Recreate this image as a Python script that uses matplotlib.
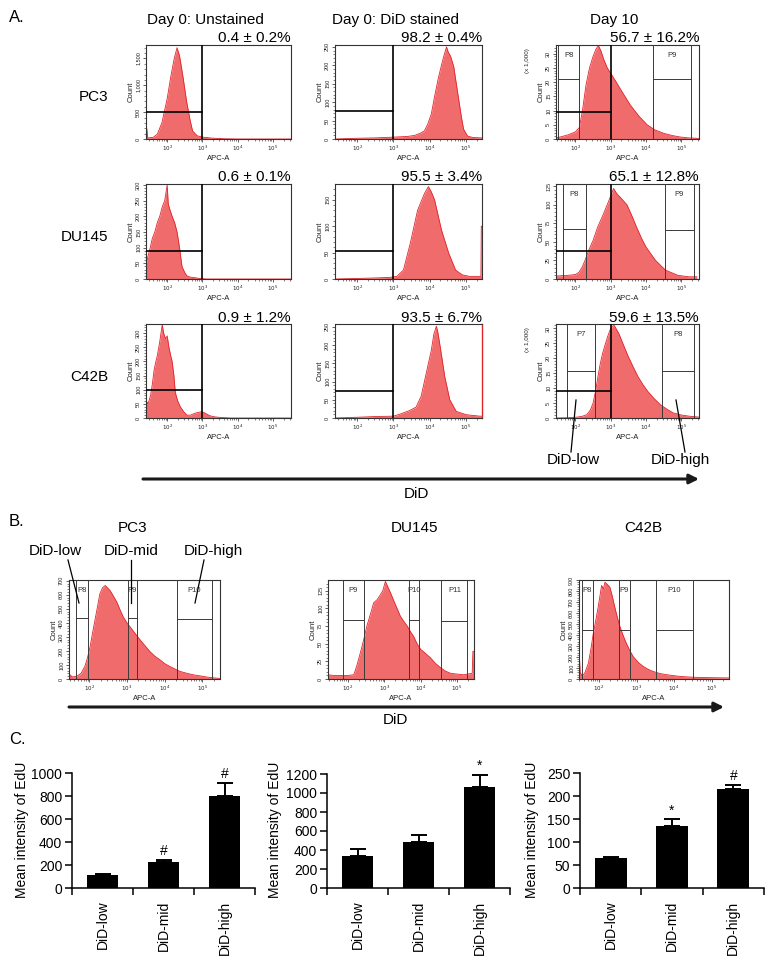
import numpy as np
import matplotlib
matplotlib.use('Agg')
import matplotlib.pyplot as plt
from matplotlib.ticker import FixedLocator, NullFormatter, LogLocator

plt.rcParams['font.family'] = ['Liberation Sans', 'DejaVu Sans']

W, H = 776, 963
fig = plt.figure(figsize=(W / 100, H / 100), dpi=100)

# ---------------- data ----------------
col_titles = ["Day 0: Unstained", "Day 0: DiD stained", "Day 10"]
row_labels = ["PC3", "DU145", "C42B"]
pct_labels = [["0.4 ± 0.2%", "98.2 ± 0.4%", "56.7 ± 16.2%"],
              ["0.6 ± 0.1%", "95.5 ± 3.4%", "65.1 ± 12.8%"],
              ["0.9 ± 1.2%", "93.5 ± 6.7%", "59.6 ± 13.5%"]]

# histograms: log10(APC-A) positions and counts
pc3_unst_lx = [1.40, 1.42, 1.45, 1.6, 1.72, 1.85, 2.0, 2.1, 2.2, 2.28, 2.35, 2.45, 2.55, 2.65, 2.72, 2.85, 3.0, 3.3, 3.6, 4.0, 5.5]
pc3_unst_ct = [200, 200, 20, 30, 90, 300, 750, 1150, 1500, 1700, 1550, 1150, 700, 350, 150, 60, 35, 15, 5, 0, 0]
pc3_st_lx = [1.39, 2.0, 2.5, 3.0, 3.4, 3.6, 3.75, 3.86, 3.95, 4.05, 4.15, 4.25, 4.33, 4.39, 4.44, 4.47, 4.52, 4.58, 4.67, 4.74, 4.81, 4.88, 4.94, 5.05, 5.2, 5.44]
pc3_st_ct = [0, 2, 3, 5, 7, 10, 16, 22, 40, 68, 120, 168, 200, 223, 240, 250, 235, 225, 196, 150, 105, 60, 27, 8, 4, 3]
pc3_d10_lx = [1.46, 1.6, 1.8, 2.0, 2.11, 2.2, 2.3, 2.4, 2.5, 2.58, 2.65, 2.72, 2.8, 2.9, 3.08, 3.3, 3.55, 3.8, 4.03, 4.25, 4.5, 4.75, 4.97, 5.2, 5.51]
pc3_d10_ct = [0.4, 0.8, 1.5, 2.5, 4.0, 10, 19, 25, 29, 31.5, 32.8, 31, 28, 25, 21.5, 17, 12, 8, 5, 3.2, 2.0, 1.2, 0.7, 0.4, 0.2]

du_unst_lx = [1.41, 1.45, 1.52, 1.58, 1.65, 1.72, 1.79, 1.86, 1.93, 2.0, 2.03, 2.08, 2.14, 2.21, 2.28, 2.35, 2.42, 2.5, 2.56, 2.65, 2.74, 2.9, 3.1, 5.5]
du_unst_ct = [50, 70, 100, 130, 150, 180, 200, 230, 250, 300, 240, 220, 200, 180, 150, 100, 40, 20, 10, 6, 5, 2, 0, 0]
du_st_lx = [1.39, 2.0, 2.5, 2.9, 3.1, 3.28, 3.47, 3.67, 3.86, 3.97, 4.05, 4.14, 4.33, 4.53, 4.72, 4.9, 5.1, 5.3, 5.42, 5.43, 5.44]
du_st_ct = [0, 1, 2, 3, 5, 17, 68, 130, 162, 175, 165, 150, 93, 49, 17, 8, 5, 5, 5, 100, 100]
du_d10_lx = [1.46, 1.8, 2.0, 2.1, 2.19, 2.28, 2.37, 2.5, 2.63, 2.77, 2.9, 3.0, 3.08, 3.17, 3.27, 3.46, 3.6, 3.73, 3.87, 4.0, 4.27, 4.55, 4.9, 5.2, 5.44]
du_d10_ct = [4, 5, 6, 9, 16, 26, 38, 52, 70, 85, 100, 112, 122, 115, 110, 100, 85, 70, 55, 43, 25, 12, 5, 3, 3]

c42_unst_lx = [1.41, 1.46, 1.53, 1.58, 1.63, 1.68, 1.72, 1.79, 1.86, 1.9, 1.95, 2.0, 2.05, 2.1, 2.14, 2.19, 2.23, 2.3, 2.37, 2.47, 2.56, 2.66, 2.75, 2.82, 2.89, 2.96, 3.03, 3.12, 3.21, 3.35, 3.5, 3.8, 5.5]
c42_unst_ct = [60, 50, 80, 120, 170, 200, 220, 270, 330, 300, 280, 290, 250, 220, 200, 150, 90, 60, 40, 22, 10, 10, 15, 18, 20, 22, 20, 14, 8, 4, 2, 0, 0]
c42_st_lx = [1.39, 2.0, 2.5, 3.0, 3.17, 3.44, 3.63, 3.77, 3.91, 4.05, 4.12, 4.19, 4.23, 4.28, 4.35, 4.42, 4.56, 4.74, 5.02, 5.39, 5.44]
c42_st_ct = [0, 2, 4, 5, 10, 20, 30, 60, 123, 186, 230, 252, 235, 205, 160, 114, 50, 18, 9, 5, 5]
c42_d10_lx = [1.43, 1.8, 2.05, 2.2, 2.32, 2.42, 2.5, 2.57, 2.64, 2.7, 2.77, 2.84, 2.91, 2.98, 3.05, 3.1, 3.23, 3.36, 3.5, 3.64, 3.77, 3.91, 4.05, 4.23, 4.41, 4.6, 4.77, 5.0, 5.23, 5.5]
c42_d10_ct = [0, 0.1, 0.3, 0.6, 1.1, 2.6, 5, 9, 14, 18, 21.7, 24.5, 27.2, 29.5, 30.8, 31, 28.3, 24.5, 20.5, 17, 13.9, 11.2, 8.9, 6.5, 4.4, 2.9, 1.7, 1.0, 0.6, 0.3]

bpc3_lx = [1.46, 1.48, 1.55, 1.66, 1.78, 1.88, 1.95, 2.02, 2.08, 2.15, 2.22, 2.28, 2.35, 2.42, 2.48, 2.55, 2.64, 2.73, 2.82, 2.9, 3.0, 3.08, 3.2, 3.35, 3.5, 3.61, 3.75, 3.88, 4.0, 4.14, 4.3, 4.41, 4.6, 4.76, 4.95, 5.12, 5.3, 5.47]
bpc3_ct = [60, 30, 15, 19, 40, 90, 150, 230, 320, 420, 520, 607, 650, 666, 650, 630, 590, 548, 490, 442, 400, 372, 330, 278, 230, 195, 160, 136, 110, 89, 68, 54, 40, 30, 22, 14, 8, 4]
bdu_lx = [1.45, 1.6, 1.8, 2.0, 2.16, 2.25, 2.34, 2.43, 2.52, 2.62, 2.71, 2.8, 2.89, 2.96, 3.03, 3.1, 3.17, 3.25, 3.35, 3.44, 3.53, 3.63, 3.72, 3.81, 3.9, 4.0, 4.14, 4.27, 4.41, 4.55, 4.69, 4.83, 5.0, 5.18, 5.42, 5.44, 5.47]
bdu_ct = [6, 5, 5, 5, 6, 20, 37, 55, 75, 92, 108, 112, 119, 125, 138, 130, 122, 112, 100, 89, 82, 75, 67, 60, 50, 42, 36, 30, 22, 16, 11, 8, 7, 6, 8, 39, 39]
bc42_lx = [1.47, 1.5, 1.56, 1.63, 1.72, 1.79, 1.85, 1.92, 1.98, 2.03, 2.07, 2.12, 2.16, 2.22, 2.29, 2.35, 2.42, 2.49, 2.56, 2.65, 2.73, 2.82, 2.91, 3.05, 3.18, 3.31, 3.44, 3.62, 3.8, 4.0, 4.15, 4.4, 4.59, 5.0, 5.39, 5.46]
bc42_ct = [280, 60, 24, 60, 144, 280, 414, 540, 655, 760, 850, 820, 880, 860, 835, 760, 655, 560, 475, 390, 324, 260, 204, 150, 114, 88, 69, 50, 39, 30, 24, 18, 15, 12, 10, 10]

# gates
day0_gate_y = [[500, 75], [90, 53], [100, 75]]
day10_quad_y = [9.5, 38, 9.2]
day10_boxes = [[(1.52, 2.11, 21, "P8"), (4.2, 5.28, 21, "P9")],
               [(1.65, 2.3, 67, "P8"), (4.53, 5.35, 66, "P9")],
               [(1.77, 2.55, 15.8, "P7"), (4.45, 5.35, 15.8, "P8")]]
b_titles = ["PC3", "DU145", "C42B"]
b_boxes = [[(1.65, 1.97, 435, "P8"), (3.02, 3.26, 435, "P9"), (4.32, 5.27, 430, "P10")],
           [(1.86, 2.44, 83, "P9"), (3.69, 3.96, 84, "P10"), (4.57, 5.29, 82.5, "P11")],
           [(1.56, 1.83, 450, "P8"), (2.54, 2.82, 450, "P9"), (3.53, 4.49, 450, "P10")]]

# panel C
c_categories = ["DiD-low", "DiD-mid", "DiD-high"]
c_pc3_mean = [115, 230, 800]
c_pc3_err = [8, 10, 115]
c_du_mean = [340, 480, 1065]
c_du_err = [75, 80, 125]
c_c42_mean = [66, 135, 216]
c_c42_err = [2, 14, 7]
c_pc3_marks = ["", "#", "#"]
c_du_marks = ["", "", "*"]
c_c42_marks = ["", "*", "#"]

# ---------------- helpers ----------------
FILL = '#f06c6c'
EDGE = '#e1232b'


def px_axes(x0, y0, x1, y1):
    return fig.add_axes([x0 / W, 1 - y1 / H, (x1 - x0) / W, (y1 - y0) / H])


def fmt_count(v):
    return f"{int(v):,}"


def hist_ax(rect, lx, ct, xl, ylim, yticks, yminor, thousand=False):
    ax = px_axes(*rect)
    x = 10 ** np.array(lx)
    ax.fill_between(x, ct, 0, color=FILL, lw=0, zorder=1)
    ax.plot(x, ct, color=EDGE, lw=0.6, zorder=2)
    ax.set_xscale('log')
    ax.set_xlim(10 ** xl[0], 10 ** xl[1])
    ax.set_ylim(*ylim)
    ax.xaxis.set_major_locator(FixedLocator([1e2, 1e3, 1e4, 1e5]))
    ax.set_xticklabels([r'$10^2$', r'$10^3$', r'$10^4$', r'$10^5$'])
    ax.xaxis.set_minor_locator(LogLocator(base=10, subs=np.arange(2, 10), numticks=20))
    ax.xaxis.set_minor_formatter(NullFormatter())
    ax.set_yticks(yticks)
    ax.set_yticklabels([fmt_count(v) for v in yticks])
    ax.yaxis.set_minor_locator(FixedLocator(np.arange(0, ylim[1], yminor)))
    ax.tick_params(which='major', length=2.5, width=0.5, labelsize=4, pad=1, colors='#222')
    ax.tick_params(which='minor', length=1.4, width=0.4, colors='#222')
    ax.tick_params(axis='y', labelrotation=90)
    for lab in ax.get_yticklabels():
        lab.set_va('center')
    ax.set_xlabel('APC-A', fontsize=5.5, labelpad=1, color='#222')
    ax.set_ylabel('Count', fontsize=5.5, labelpad=1, color='#222')
    if thousand:
        ax.text(-0.2, 0.97, '(x 1,000)', transform=ax.transAxes, rotation=90,
                fontsize=4.5, ha='center', va='top', color='#222')
    for s in ax.spines.values():
        s.set_linewidth(0.8)
        s.set_color('#333')
    return ax


def boxes(ax, bx, ylim):
    for (l, r, h, lab) in bx:
        ax.axvline(10 ** l, color='#3a3a3a', lw=0.7, zorder=3)
        ax.axvline(10 ** r, color='#3a3a3a', lw=0.7, zorder=3)
        ax.plot([10 ** l, 10 ** r], [h, h], color='#3a3a3a', lw=0.7, zorder=3)
        ax.text(10 ** ((l + r) / 2), ylim[1] * 0.93, lab, fontsize=5.5, ha='center',
                va='top', color='#333', zorder=4)


# ---------------- panel A ----------------
col_x = [(146, 291), (335, 482), (556, 699)]
row_y = [(45, 139), (184, 279), (324, 418)]
xlims = [(1.40, 5.51), (1.39, 5.45), (1.45, 5.5)]

hdata = [[(pc3_unst_lx, pc3_unst_ct), (pc3_st_lx, pc3_st_ct), (pc3_d10_lx, pc3_d10_ct)],
         [(du_unst_lx, du_unst_ct), (du_st_lx, du_st_ct), (du_d10_lx, du_d10_ct)],
         [(c42_unst_lx, c42_unst_ct), (c42_st_lx, c42_st_ct), (c42_d10_lx, c42_d10_ct)]]
hylim = [[(0, 1750), (0, 255), (0, 33)],
         [(0, 303), (0, 180), (0, 128)],
         [(0, 332), (0, 258), (0, 31.5)]]
hyticks = [[[0, 500, 1000, 1500], [0, 50, 100, 150, 200, 250], [0, 5, 10, 15, 20, 25, 30]],
           [[0, 50, 100, 150, 200, 250, 300], [0, 50, 100, 150], [0, 25, 50, 75, 100, 125]],
           [[0, 50, 100, 150, 200, 250, 300], [0, 50, 100, 150, 200, 250], [0, 5, 10, 15, 20, 25, 30]]]
hyminor = [[100, 10, 1], [10, 10, 5], [10, 10, 1]]

for r in range(3):
    for c in range(3):
        lx, ct = hdata[r][c]
        rect = (col_x[c][0], row_y[r][0], col_x[c][1], row_y[r][1])
        ax = hist_ax(rect, lx, ct, xlims[c], hylim[r][c], hyticks[r][c], hyminor[r][c],
                     thousand=(c == 2 and r != 1))
        xl0 = 10 ** xlims[c][0]
        if c < 2:
            ax.axvline(1e3, color='k', lw=1.2, zorder=5)
            ax.plot([xl0, 1e3], [day0_gate_y[r][c], day0_gate_y[r][c]], color='k', lw=1.2, zorder=5)
        else:
            boxes(ax, day10_boxes[r], hylim[r][c])
            ax.axvline(1e3, color='k', lw=1.2, zorder=5)
            ax.plot([xl0, 1e3], [day10_quad_y[r], day10_quad_y[r]], color='k', lw=1.2, zorder=5)
        if r == 2 and c == 1:
            ax.spines['right'].set_color(EDGE)
            ax.spines['right'].set_linewidth(1.0)

# ---------------- panel B ----------------
b_x = [(69, 220), (328, 474), (579, 729)]
b_y = (580, 679)
b_data = [(bpc3_lx, bpc3_ct), (bdu_lx, bdu_ct), (bc42_lx, bc42_ct)]
b_xlims = [(1.46, 5.47), (1.45, 5.47), (1.47, 5.46)]
b_ylims = [(0, 705), (0, 140), (0, 900)]
b_yticks = [[0, 100, 200, 300, 400, 500, 600, 700], [0, 25, 50, 75, 100, 125],
            [0, 100, 200, 300, 400, 500, 600, 700, 800, 900]]
b_yminor = [20, 5, 20]
for i in range(3):
    lx, ct = b_data[i]
    ax = hist_ax((b_x[i][0], b_y[0], b_x[i][1], b_y[1]), lx, ct, b_xlims[i], b_ylims[i],
                 b_yticks[i], b_yminor[i])
    boxes(ax, b_boxes[i], b_ylims[i])

# ---------------- panel C ----------------
c_rects = [(72, 773, 255, 888), (327, 774, 510, 888), (580, 773, 764, 888)]
c_means = [c_pc3_mean, c_du_mean, c_c42_mean]
c_errs = [c_pc3_err, c_du_err, c_c42_err]
c_marks = [c_pc3_marks, c_du_marks, c_c42_marks]
c_ylims = [1000, 1200, 250]
c_ystep = [200, 200, 50]
c_ylab_x = [22, 275, 532]
for i in range(3):
    ax = px_axes(*c_rects[i])
    xs = np.arange(len(c_categories))
    ax.bar(xs, c_means[i], width=0.52, color='black', zorder=2)
    ax.errorbar(xs, c_means[i], yerr=[np.zeros(3), c_errs[i]], fmt='none', ecolor='black',
                elinewidth=1.4, capsize=5.5, capthick=1.4, zorder=3)
    for xv, m, e, mk in zip(xs, c_means[i], c_errs[i], c_marks[i]):
        if mk:
            ax.annotate(mk, (xv, m + e), xytext=(0, 1.5), textcoords='offset points',
                        ha='center', va='bottom', fontsize=10)
    ax.set_xlim(-0.5, 2.5)
    ax.set_ylim(0, c_ylims[i])
    ax.set_yticks(np.arange(0, c_ylims[i] + 1, c_ystep[i]))
    ax.xaxis.set_major_locator(FixedLocator([-0.5, 0.5, 1.5, 2.5]))
    ax.xaxis.set_major_formatter(NullFormatter())
    ax.xaxis.set_minor_locator(FixedLocator(xs))
    ax.set_xticklabels(c_categories, minor=True, rotation=90, fontsize=10, va='top')
    ax.tick_params(axis='x', which='minor', length=0, pad=9)
    ax.tick_params(axis='x', which='major', length=5, width=1.1, direction='out')
    ax.tick_params(axis='y', length=5, width=1.1, labelsize=10, pad=2)
    for s in ['top', 'right']:
        ax.spines[s].set_visible(False)
    for s in ['left', 'bottom']:
        ax.spines[s].set_linewidth(1.1)
    ax.spines['left'].set_bounds(0, c_ylims[i])

# ---------------- overlay (pixel coords) ----------------
ov = fig.add_axes([0, 0, 1, 1])
ov.set_xlim(0, W)
ov.set_ylim(H, 0)
ov.axis('off')
ov.set_zorder(20)
ov.patch.set_visible(False)

ov.text(9, 18, "A.", fontsize=12, ha='left', va='center')
ov.text(9, 521, "B.", fontsize=12, ha='left', va='center')
ov.text(9, 740, "C.", fontsize=12, ha='left', va='center')

for cx, t in zip([205, 396, 614], col_titles):
    ov.text(cx, 20, t, fontsize=11, ha='center', va='center')
for r in range(3):
    ov.text(108, [97, 237, 377][r], row_labels[r], fontsize=11, ha='right', va='center')
    for c in range(3):
        ov.text(col_x[c][1], [38, 177, 318][r], pct_labels[r][c], fontsize=11,
                ha='right', va='center')

# DiD arrows
ov.annotate('', xy=(699, 479), xytext=(143, 479),
            arrowprops=dict(arrowstyle='-|>', lw=2.2, color='#1a1a1a', mutation_scale=14,
                            shrinkA=0, shrinkB=0))
ov.text(416, 494, "DiD", fontsize=11, ha='center', va='center')
ov.annotate('', xy=(724, 707), xytext=(69, 707),
            arrowprops=dict(arrowstyle='-|>', lw=2.2, color='#1a1a1a', mutation_scale=14,
                            shrinkA=0, shrinkB=0))
ov.text(395, 720, "DiD", fontsize=11, ha='center', va='center')

# leader labels panel A
ov.text(573, 460, "DiD-low", fontsize=11, ha='center', va='center')
ov.plot([571, 576], [452, 400], color='k', lw=0.9)
ov.text(680, 460, "DiD-high", fontsize=11, ha='center', va='center')
ov.plot([685, 676], [452, 400], color='k', lw=0.9)

# panel B titles and leaders
for cx, t in zip([133, 415, 643], b_titles):
    ov.text(cx, 528, t, fontsize=11, ha='center', va='center')
ov.text(55, 551, "DiD-low", fontsize=11, ha='center', va='center')
ov.plot([68, 79], [560, 603], color='k', lw=0.9)
ov.text(131, 551, "DiD-mid", fontsize=11, ha='center', va='center')
ov.plot([131, 131], [560, 603], color='k', lw=0.9)
ov.text(213, 551, "DiD-high", fontsize=11, ha='center', va='center')
ov.plot([204, 195], [560, 603], color='k', lw=0.9)

# panel C y labels
for xl in c_ylab_x:
    ov.text(xl, 830, "Mean intensity of EdU", fontsize=10, rotation=90, ha='center', va='center')

fig.savefig('out.png', dpi=100)
